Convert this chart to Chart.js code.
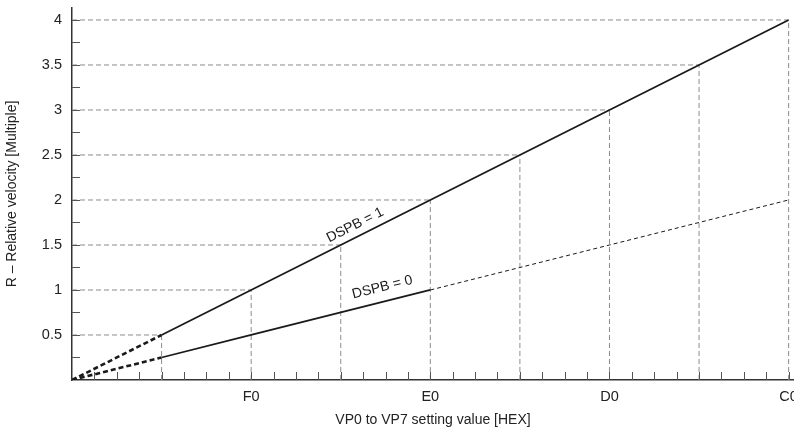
<!DOCTYPE html>
<html>
<head>
<meta charset="utf-8">
<script src="https://cdn.jsdelivr.net/npm/chart.js@4.4.0/dist/chart.umd.min.js"></script>
<style>
    html, body { margin: 0; padding: 0; background: #fff; overflow: hidden; }
</style>
</head>
<body>
<canvas id="grafico" width="794" height="427"></canvas>
<script>
// valores
var valoresHex = [0, 1, 2, 3, 4, 5, 6, 7, 8];
var dspb1 = [0, 0.5, 1, 1.5, 2, 2.5, 3, 3.5, 4];
var dspb0 = [0, 0.25, 0.5, 0.75, 1, 1.25, 1.5, 1.75, 2];
var posRotulosX = [2, 4, 6, 8];
var rotulosX = ['F0', 'E0', 'D0', 'C0'];
var rotulosLinhas = ['DSPB = 1', 'DSPB = 0'];

Chart.defaults.font.family = "'Liberation Sans', Arial, Helvetica, sans-serif";

function pontos(xs, ys) {
    var lista = [];
    for (let i = 0; i < xs.length; i++) {
        lista.push({ x: xs[i], y: ys[i] });
    }
    return lista;
}

var conjuntos = [
    {
        label: rotulosLinhas[0],
        data: pontos(valoresHex, dspb1),
        borderColor: '#1a1a1a',
        borderWidth: 1.8,
        pointRadius: 0,
        segment: {
            borderDash: c => c.p0DataIndex == 0 ? [5, 3] : [],
            borderWidth: c => c.p0DataIndex == 0 ? 2.6 : 1.8
        }
    },
    {
        label: rotulosLinhas[1],
        data: pontos(valoresHex, dspb0),
        borderColor: '#1a1a1a',
        borderWidth: 1.8,
        pointRadius: 0,
        segment: {
            borderDash: c => c.p0DataIndex == 0 ? [5, 3] : (c.p0DataIndex >= 4 ? [4, 3] : []),
            borderWidth: c => c.p0DataIndex == 0 ? 2.6 : (c.p0DataIndex >= 4 ? 1 : 1.8)
        }
    }
];

// linhas de grade tracejadas que vao do eixo ate a reta DSPB = 1
for (let i = 1; i < valoresHex.length; i++) {
    conjuntos.push({
        data: [{ x: valoresHex[i], y: 0 }, { x: valoresHex[i], y: dspb1[i] }],
        borderColor: '#8c8c8c', borderWidth: 1, borderDash: [5, 3], pointRadius: 0
    });
    conjuntos.push({
        data: [{ x: 0, y: dspb1[i] }, { x: valoresHex[i], y: dspb1[i] }],
        borderColor: '#8c8c8c', borderWidth: 1, borderDash: [5, 3], pointRadius: 0
    });
}

var marcas = {
    id: 'marcas',
    afterDraw(chart) {
        var ctx = chart.ctx, sx = chart.scales.x, sy = chart.scales.y;
        ctx.save();
        ctx.strokeStyle = '#555';
        ctx.lineWidth = 1;
        sx.ticks.forEach(t => {
            if (t.value > 0 && Math.abs(t.value * 4 - Math.round(t.value * 4)) < 1e-6) {
                var px = Math.round(sx.getPixelForValue(t.value)) + 0.5;
                ctx.beginPath();
                ctx.moveTo(px, sy.bottom);
                ctx.lineTo(px, sy.bottom - 8);
                ctx.stroke();
            }
        });
        sy.ticks.forEach(t => {
            if (t.value > 0 && Math.abs(t.value * 4 - Math.round(t.value * 4)) < 1e-6) {
                var py = Math.round(sy.getPixelForValue(t.value)) + 0.5;
                ctx.beginPath();
                ctx.moveTo(sx.left, py);
                ctx.lineTo(sx.left + 8, py);
                ctx.stroke();
            }
        });
        ctx.restore();
    },
    afterDatasetsDraw(chart) {
        var ctx = chart.ctx, sx = chart.scales.x, sy = chart.scales.y;
        var curvas = [dspb1, dspb0];
        var posTexto = [[3.16, 1.72], [3.465, 1.03]];
        var n = valoresHex.length - 1;
        ctx.save();
        ctx.fillStyle = '#1a1a1a';
        ctx.font = "14px 'Liberation Sans', Arial, sans-serif";
        ctx.textAlign = 'center';
        ctx.textBaseline = 'middle';
        for (let i = 0; i < curvas.length; i++) {
            var ang = Math.atan2(
                sy.getPixelForValue(curvas[i][n]) - sy.getPixelForValue(curvas[i][0]),
                sx.getPixelForValue(valoresHex[n]) - sx.getPixelForValue(valoresHex[0]));
            ctx.save();
            ctx.translate(sx.getPixelForValue(posTexto[i][0]), sy.getPixelForValue(posTexto[i][1]));
            ctx.rotate(ang);
            ctx.fillText(rotulosLinhas[i], 0, 0);
            ctx.restore();
        }
        ctx.restore();
    }
};

new Chart(document.getElementById('grafico'), {
    type: 'line',
    data: { datasets: conjuntos },
    plugins: [marcas],
    options: {
        responsive: false,
        animation: false,
        layout: { padding: { top: 8, right: 0, left: 0, bottom: 0 } },
        plugins: { legend: { display: false }, tooltip: { enabled: false } },
        scales: {
            x: {
                type: 'linear',
                min: 0,
                max: 8.06,
                afterFit: s => { s.height = 47; s.paddingLeft = 0; s.paddingRight = 0; },
                grid: { display: false, drawTicks: false },
                border: { display: true, color: '#333', width: 1.5 },
                ticks: {
                    stepSize: 0.25,
                    includeBounds: false,
                    autoSkip: false,
                    maxRotation: 0,
                    padding: 8,
                    color: '#222',
                    font: { size: 14.5 },
                    callback: v => {
                        var i = posRotulosX.indexOf(v);
                        return i >= 0 ? rotulosX[i] : '';
                    }
                },
                title: {
                    display: true,
                    text: 'VP0 to VP7 setting value [HEX]',
                    color: '#222',
                    font: { size: 14, lineHeight: 1.0 },
                    padding: { top: 0, bottom: 0 }
                }
            },
            y: {
                type: 'linear',
                min: 0,
                max: 4.133,
                afterFit: s => { s.width = 72; s.paddingTop = 0; s.paddingBottom = 0; },
                grid: { display: false, drawTicks: false },
                border: { display: true, color: '#333', width: 1.5 },
                ticks: {
                    stepSize: 0.25,
                    includeBounds: false,
                    autoSkip: false,
                    padding: 10,
                    color: '#222',
                    font: { size: 14.5 },
                    callback: v => (v > 0 && Math.abs(v * 2 - Math.round(v * 2)) < 1e-6) ? String(v) : ''
                },
                title: {
                    display: true,
                    text: 'R – Relative velocity [Multiple]',
                    color: '#222',
                    font: { size: 14 },
                    padding: { top: 4, bottom: 0 }
                }
            }
        }
    }
});
</script>
</body>
</html>
